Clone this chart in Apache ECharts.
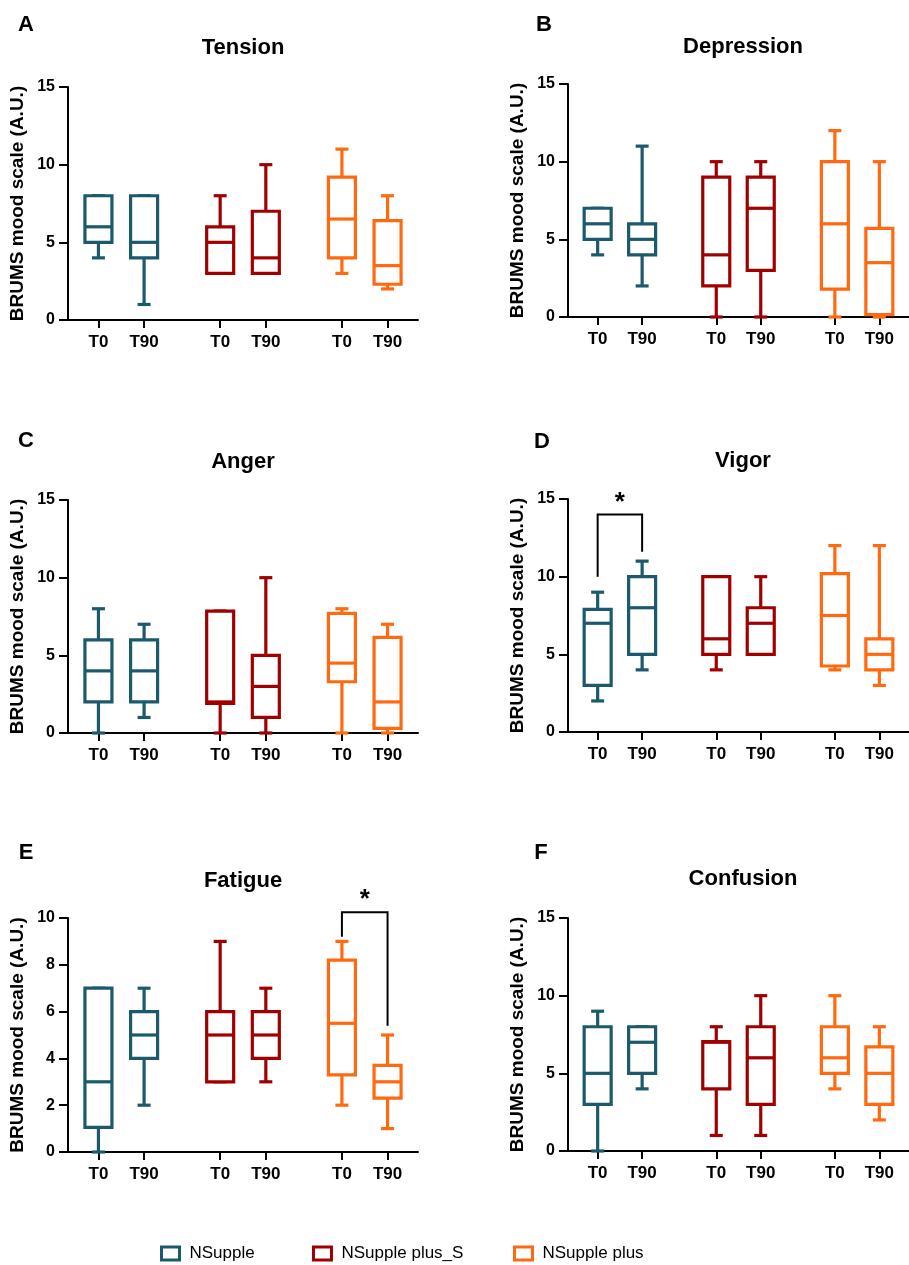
<!DOCTYPE html>
<html>
<head>
<meta charset="utf-8">
<script src="https://cdn.jsdelivr.net/npm/echarts@6/dist/echarts.min.js"></script>
<style>
html,body{margin:0;padding:0;background:#fff;}
#chart{width:909px;height:1265px;}
</style>
</head>
<body>
<div id="chart"></div>
<script>
// ---------- DATA ----------
const groups = ['NSupple', 'NSupple plus_S', 'NSupple plus'];
const times = ['T0', 'T90'];
const panelLetters = ['A', 'B', 'C', 'D', 'E', 'F'];
const panelTitles = ['Tension', 'Depression', 'Anger', 'Vigor', 'Fatigue', 'Confusion'];
const yAxisTitle = 'BRUMS mood scale (A.U.)';
const yTicks15 = [0, 5, 10, 15];
const yTicks10 = [0, 2, 4, 6, 8, 10];

// rows: [group][time] -> [min, q1, median, q3, max]
const tension = [
  [[4, 5, 6, 8, 8], [1, 4, 5, 8, 8]],
  [[3, 3, 5, 6, 8], [3, 3, 4, 7, 10]],
  [[3, 4, 6.5, 9.2, 11], [2, 2.3, 3.5, 6.4, 8]]
];
const depression = [
  [[4, 5, 6, 7, 7], [2, 4, 5, 6, 11]],
  [[0, 2, 4, 9, 10], [0, 3, 7, 9, 10]],
  [[0, 1.8, 6, 10, 12], [0, 0.15, 3.5, 5.7, 10]]
];
const anger = [
  [[0, 2, 4, 6, 8], [1, 2, 4, 6, 7]],
  [[0, 1.9, 2, 7.85, 7.85], [0, 1, 3, 5, 10]],
  [[0, 3.3, 4.5, 7.7, 8], [0, 0.3, 2, 6.15, 7]]
];
const vigor = [
  [[2, 3, 7, 7.9, 9], [4, 5, 8, 10, 11]],
  [[4, 5, 6, 10, 10], [5, 5, 7, 8, 10]],
  [[4, 4.25, 7.5, 10.2, 12], [3, 4, 5, 6, 12]]
];
const fatigue = [
  [[0, 1.05, 3, 7, 7], [2, 4, 5, 6, 7]],
  [[3, 3, 5, 6, 9], [3, 4, 5, 6, 7]],
  [[2, 3.3, 5.5, 8.2, 9], [1, 2.3, 3, 3.7, 5]]
];
const confusion = [
  [[0, 3, 5, 8, 9], [4, 5, 7, 8, 8]],
  [[1, 4, 7, 7.05, 8], [1, 3, 6, 8, 10]],
  [[4, 5, 6, 8, 10], [2, 3, 5, 6.7, 8]]
];
const panelData = [tension, depression, anger, vigor, fatigue, confusion];

// significance brackets: [panel index, group index, bracket top, left end, right end]
const vigorSig = [3, 0, 14, 10, 11.6];
const fatigueSig = [4, 2, 10.25, 9.2, 5.4];
const sigLabel = '*';

// ---------- STYLE / LAYOUT ----------
const colors = ['#1B5A6D', '#A10000', '#FF6A10'];
const FONT = "'Liberation Sans', Arial, Helvetica, sans-serif";
const NSLOTS = 24;
const groupSlot = [2, 10, 18];
const timeSlot = [0, 3];
const grids = [
  {left: 68, top: 87, width: 350, height: 233},
  {left: 568, top: 84, width: 350, height: 233},
  {left: 68, top: 500, width: 350, height: 233},
  {left: 568, top: 499, width: 350, height: 233},
  {left: 68, top: 918, width: 350, height: 234},
  {left: 568, top: 918, width: 350, height: 233}
];
const letterPos = [[26, 25], [544, 25], [26, 441], [542, 442], [26, 853], [541, 853]];
const titlePos = [[243, 48], [743, 47], [243, 462], [743, 461], [243, 881], [743, 879]];

const tickSlots = [];
const xCats = new Array(NSLOTS).fill('');
groupSlot.forEach(g => timeSlot.forEach((t, ti) => { tickSlots.push(g + t); xCats[g + t] = times[ti]; }));

function boxRenderer(color) {
  return function (params, api) {
    const x = api.value(0);
    const pMin = api.coord([x, api.value(1)]);
    const pQ1 = api.coord([x, api.value(2)]);
    const pMed = api.coord([x, api.value(3)]);
    const pQ3 = api.coord([x, api.value(4)]);
    const pMax = api.coord([x, api.value(5)]);
    const cx = pMed[0];
    const hw = 13.5, cw = 6.5;
    const st = {stroke: color, lineWidth: 3.2, fill: null, lineCap: 'butt'};
    return {
      type: 'group',
      children: [
        {type: 'line', shape: {x1: cx, y1: pMin[1], x2: cx, y2: pQ1[1]}, style: st},
        {type: 'line', shape: {x1: cx, y1: pQ3[1], x2: cx, y2: pMax[1]}, style: st},
        {type: 'line', shape: {x1: cx - cw, y1: pMin[1], x2: cx + cw, y2: pMin[1]}, style: st},
        {type: 'line', shape: {x1: cx - cw, y1: pMax[1], x2: cx + cw, y2: pMax[1]}, style: st},
        {type: 'rect', shape: {x: cx - hw, y: pQ3[1], width: 2 * hw, height: pQ1[1] - pQ3[1]},
          style: {stroke: color, lineWidth: 3.2, fill: '#fff'}},
        {type: 'line', shape: {x1: cx - hw, y1: pMed[1], x2: cx + hw, y2: pMed[1]}, style: st}
      ]
    };
  };
}

function bracketRenderer(params, api) {
  const xl = api.value(0), xr = api.value(1);
  const top = api.value(2), le = api.value(3), re = api.value(4);
  const pTL = api.coord([xl, top]);
  const pTR = api.coord([xr, top]);
  const pL = api.coord([xl, le]);
  const pR = api.coord([xr, re]);
  return {
    type: 'group',
    children: [
      {type: 'polyline', shape: {points: [pL, pTL, pTR, pR]},
        style: {stroke: '#000', lineWidth: 2, fill: null}},
      {type: 'text', style: {text: sigLabel, x: (pTL[0] + pTR[0]) / 2, y: pTL[1] - 12,
        textAlign: 'center', textVerticalAlign: 'middle', font: 'bold 26px ' + FONT, fill: '#000'}}
    ]
  };
}

const xAxes = [], yAxes = [], series = [], graphics = [];
grids.forEach((g, i) => {
  xAxes.push({
    type: 'category', gridIndex: i, data: xCats, boundaryGap: false,
    axisLine: {show: true, lineStyle: {color: '#000', width: 2}},
    axisTick: {show: true, length: 8, lineStyle: {color: '#000', width: 2},
      interval: (idx) => tickSlots.includes(idx)},
    axisLabel: {show: true, interval: (idx) => tickSlots.includes(idx), margin: 14,
      color: '#000', fontWeight: 'bold', fontSize: 17, fontFamily: FONT},
    splitLine: {show: false}
  });
  const ticks = i === 4 ? yTicks10 : yTicks15;
  yAxes.push({
    type: 'value', gridIndex: i, min: ticks[0], max: ticks[ticks.length - 1],
    interval: ticks[1] - ticks[0],
    name: yAxisTitle, nameLocation: 'middle', nameGap: 41, nameRotate: 90,
    nameTextStyle: {color: '#000', fontWeight: 'bold', fontSize: 19, fontFamily: FONT},
    axisLine: {show: true, lineStyle: {color: '#000', width: 2}},
    axisTick: {show: true, length: 9, lineStyle: {color: '#000', width: 2}},
    axisLabel: {margin: 13, color: '#000', fontWeight: 'bold', fontSize: 16, fontFamily: FONT},
    splitLine: {show: false}
  });
  groups.forEach((gname, gi) => {
    const rows = panelData[i][gi].map((v, ti) => [groupSlot[gi] + timeSlot[ti]].concat(v));
    series.push({
      type: 'custom', name: gname, xAxisIndex: i, yAxisIndex: i,
      itemStyle: {color: colors[gi]},
      encode: {x: 0, y: [1, 2, 3, 4, 5]},
      renderItem: boxRenderer(colors[gi]),
      data: rows, clip: false, z: 3
    });
  });
  graphics.push({type: 'text', x: letterPos[i][0], y: letterPos[i][1],
    style: {text: panelLetters[i], textAlign: 'center', textVerticalAlign: 'middle',
      font: 'bold 22px ' + FONT, fill: '#000'}});
  graphics.push({type: 'text', x: titlePos[i][0], y: titlePos[i][1],
    style: {text: panelTitles[i], textAlign: 'center', textVerticalAlign: 'middle',
      font: 'bold 22px ' + FONT, fill: '#000'}});
});

[vigorSig, fatigueSig].forEach(s => {
  const [p, gi, top, le, re] = s;
  series.push({
    type: 'custom', name: 'sig' + p, xAxisIndex: p, yAxisIndex: p,
    encode: {x: [0, 1], y: [2, 3, 4]},
    renderItem: bracketRenderer, clip: false, z: 4,
    data: [[groupSlot[gi] + timeSlot[0], groupSlot[gi] + timeSlot[1], top, le, re]]
  });
});

const legendLeft = [160, 312, 513];
const legends = groups.map((gname, gi) => ({
  left: legendLeft[gi], top: 1245, orient: 'horizontal', padding: 0,
  itemWidth: 18, itemHeight: 13, selectedMode: false,
  textStyle: {fontSize: 17, color: '#000', fontFamily: FONT, padding: [0, 0, 0, 5]},
  data: [{name: gname, icon: 'rect',
    itemStyle: {color: '#fff', borderColor: colors[gi], borderWidth: 3}}]
}));

const chart = echarts.init(document.getElementById('chart'), null, {renderer: 'canvas'});
chart.setOption({
  animation: false,
  backgroundColor: '#fff',
  grid: grids,
  xAxis: xAxes,
  yAxis: yAxes,
  legend: legends,
  graphic: graphics,
  series: series
});
</script>
</body>
</html>
